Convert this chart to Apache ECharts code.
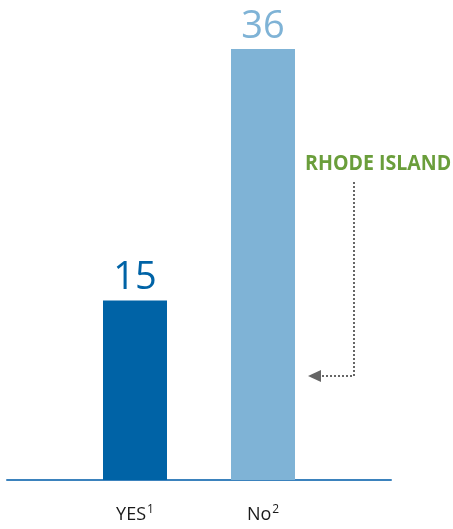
<!DOCTYPE html>
<html>
<head>
<meta charset="utf-8">
<script src="https://cdn.jsdelivr.net/npm/echarts@6/dist/echarts.min.js"></script>
<style>
  html, body { margin: 0; padding: 0; background: #fff; }
  #chart { width: 453px; height: 529px; }
</style>
</head>
<body>
<div id="chart"></div>
<script>
// Survey answers and their counts
const categories = ['YES', 'No'];
const footnotes = ['1', '2'];
const values = [15, 36];
const barColors = ['#0063a6', '#7fb3d6'];
const positions = [1, 2];

const chart = echarts.init(document.getElementById('chart'));

chart.setOption({
  animation: false,
  grid: { left: 7, right: 62, top: 1, bottom: 49 },
  xAxis: {
    type: 'value',
    min: 0,
    max: 3,
    interval: 1,
    splitLine: { show: false },
    axisTick: { show: false },
    axisLine: { show: true, onZero: false, lineStyle: { color: '#3b82bd', width: 2 } },
    axisLabel: {
      margin: 24,
      showMinLabel: true,
      showMaxLabel: true,
      formatter: function (v) {
        const i = positions.indexOf(v);
        return i < 0 ? '' : '{t|' + categories[i] + '}{s|' + footnotes[i] + '}';
      },
      rich: {
        t: { fontFamily: 'Open Sans', fontSize: 18, color: '#1a1a1a', lineHeight: 22 },
        s: { fontFamily: 'Open Sans', fontSize: 12, color: '#1a1a1a', verticalAlign: 'top', lineHeight: 14, padding: [0, 0, 0, 1] }
      }
    }
  },
  yAxis: {
    type: 'value',
    min: 0,
    max: 40,
    show: false
  },
  series: [{
    type: 'bar',
    barWidth: 64,
    data: values.map((v, i) => ({
      value: [positions[i], v],
      itemStyle: { color: barColors[i] },
      label: { color: barColors[i] }
    })),
    label: {
      show: true,
      position: 'top',
      distance: 3,
      fontFamily: 'Open Sans',
      fontWeight: 'normal',
      fontSize: 38,
      formatter: p => p.value[1]
    }
  }],
  graphic: [
    {
      type: 'text',
      x: 305,
      y: 153,
      scaleX: 0.89,
      style: {
        text: 'RHODE ISLAND',
        fontFamily: 'Open Sans',
        fontWeight: 'bold',
        fontSize: 22,
        fill: '#6a9e3b',
        verticalAlign: 'top'
      }
    },
    {
      type: 'polyline',
      shape: { points: [[354, 182], [354, 376], [321, 376]] },
      style: { stroke: '#666', lineWidth: 2, lineDash: [2, 2], fill: null }
    },
    {
      type: 'polygon',
      shape: { points: [[308, 376], [321, 370], [321, 382]] },
      style: { fill: '#666' }
    }
  ]
});
</script>
</body>
</html>
